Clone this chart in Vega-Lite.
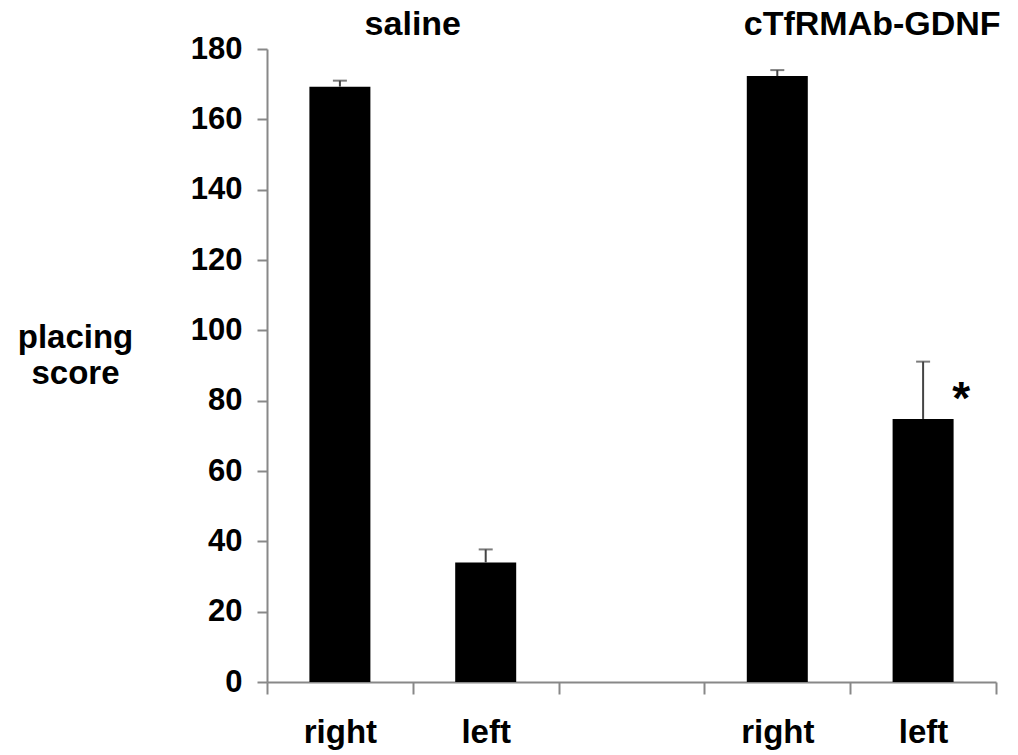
{
  "$schema": "https://vega.github.io/schema/vega-lite/v6.json",
  "width": 729,
  "height": 633,
  "autosize": {"type": "none"},
  "padding": {"left": 267, "top": 49, "right": 22, "bottom": 73},
  "background": "white",
  "config": {"view": {"stroke": null}, "font": "Liberation Sans"},
  "data": {"values": [
    {"group": "saline", "side": "right", "slot": 0.5, "score": 169.3, "upper": 171.0, "mark": ""},
    {"group": "saline", "side": "left", "slot": 1.5, "score": 34.0, "upper": 37.7, "mark": ""},
    {"group": "cTfRMAb-GDNF", "side": "right", "slot": 3.5, "score": 172.3, "upper": 174.0, "mark": ""},
    {"group": "cTfRMAb-GDNF", "side": "left", "slot": 4.5, "score": 74.8, "upper": 91.1, "mark": "*"}
  ]},
  "encoding": {
    "x": {
      "field": "slot", "type": "quantitative",
      "scale": {"domain": [0, 5], "nice": false, "zero": false, "padding": 0},
      "axis": {
        "title": null,
        "values": [0, 0.5, 1, 1.5, 2, 3, 3.5, 4, 4.5, 5],
        "labelExpr": "datum.value == 0.5 || datum.value == 3.5 ? 'right' : (datum.value == 1.5 || datum.value == 4.5 ? 'left' : '')",
        "tickOpacity": {"condition": {"test": "datum.value % 1 != 0", "value": 0}, "value": 1},
        "grid": false,
        "domainColor": "#888888", "domainWidth": 2,
        "tickColor": "#888888", "tickWidth": 2, "tickSize": 12,
        "labelFontSize": 33, "labelFontWeight": "bold", "labelColor": "black",
        "labelBaseline": "alphabetic", "labelPadding": 48,
        "labelFlush": false, "labelOverlap": false, "labelBound": false
      }
    }
  },
  "layer": [
    {
      "mark": {"type": "bar", "color": "black", "width": 61},
      "encoding": {
        "y": {
          "field": "score", "type": "quantitative",
          "scale": {"domain": [0, 180], "nice": false},
          "axis": {
            "values": [0, 20, 40, 60, 80, 100, 120, 140, 160, 180],
            "grid": false,
            "domainColor": "#888888", "domainWidth": 2,
            "tickColor": "#888888", "tickWidth": 2, "tickSize": 10,
            "labelFontSize": 31, "labelFontWeight": "bold", "labelColor": "black",
            "labelPadding": 15,
            "title": ["placing", "score"],
            "titleAngle": 0, "titleAlign": "center", "titleBaseline": "alphabetic",
            "titleX": -192, "titleY": 298, "titleLineHeight": 36,
            "titleFontSize": 33, "titleFontWeight": "bold", "titleColor": "black"
          }
        }
      }
    },
    {
      "mark": {"type": "rule", "color": "#444444", "strokeWidth": 2},
      "encoding": {
        "y": {"field": "score", "type": "quantitative"},
        "y2": {"field": "upper"}
      }
    },
    {
      "mark": {"type": "tick", "orient": "horizontal", "color": "#444444", "size": 14, "thickness": 2},
      "encoding": {
        "y": {"field": "upper", "type": "quantitative"}
      }
    },
    {
      "transform": [{"filter": "datum.mark == '*'"}],
      "mark": {"type": "text", "fontSize": 46, "fontWeight": "bold", "align": "center", "baseline": "alphabetic", "dx": 38, "dy": -5, "color": "black"},
      "encoding": {
        "y": {"field": "score", "type": "quantitative"},
        "text": {"field": "mark"}
      }
    },
    {
      "transform": [
        {"filter": "datum.group == 'saline'"},
        {"aggregate": [{"op": "mean", "field": "slot", "as": "slot"}], "groupby": ["group"]}
      ],
      "mark": {"type": "text", "fontSize": 34, "fontWeight": "bold", "align": "center", "baseline": "alphabetic", "color": "black"},
      "encoding": {
        "y": {"datum": 184},
        "text": {"field": "group"}
      }
    },
    {
      "transform": [
        {"filter": "datum.group == 'cTfRMAb-GDNF'"},
        {"aggregate": [{"op": "mean", "field": "slot", "as": "slot"}], "groupby": ["group"]}
      ],
      "mark": {"type": "text", "fontSize": 34, "fontWeight": "bold", "align": "center", "baseline": "alphabetic", "dx": 22, "color": "black"},
      "encoding": {
        "y": {"datum": 184},
        "text": {"field": "group"}
      }
    }
  ]
}
